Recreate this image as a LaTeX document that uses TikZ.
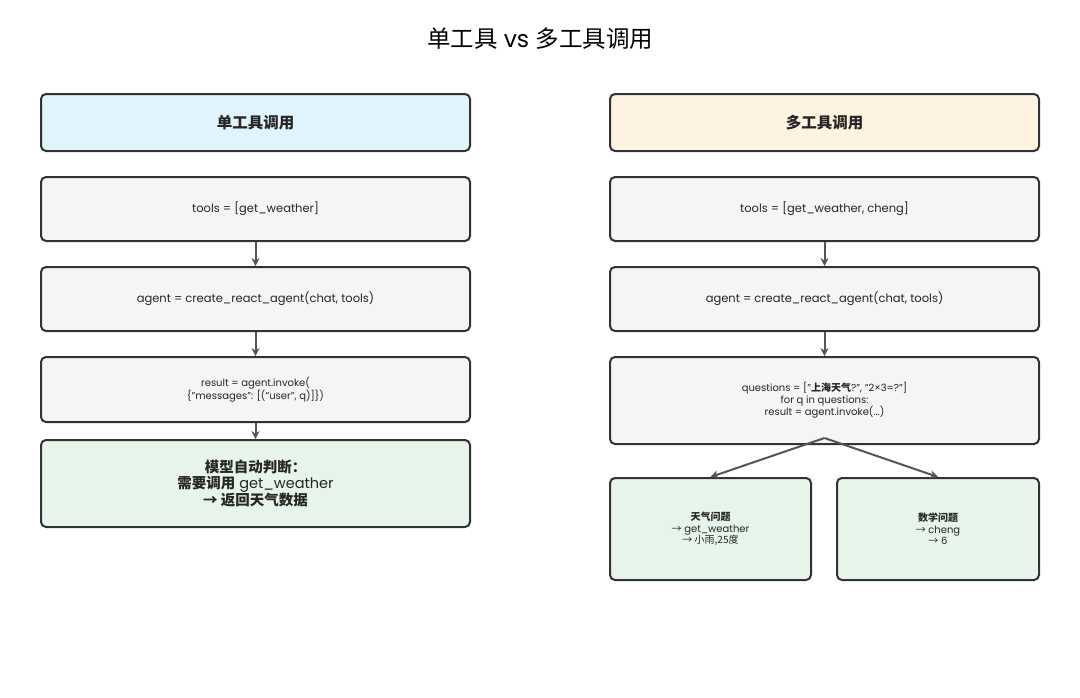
\documentclass[tikz,border=0pt]{standalone}
\usepackage{fontspec}
\setmainfont{Poppins}
\newfontfamily\cjk{Noto Sans CJK SC}
\usetikzlibrary{arrows.meta}

\definecolor{edgegray}{HTML}{333333}
\definecolor{arrowgray}{HTML}{555555}
\definecolor{codegray}{HTML}{F5F5F5}
\definecolor{headblue}{HTML}{E1F3FC}
\definecolor{headorange}{HTML}{FEF2E0}
\definecolor{resgreen}{HTML}{E6F4EA}

\tikzset{
  box/.style={draw=edgegray, line width=2pt, rounded corners=5pt, fill=codegray,
    align=center, inner sep=0pt, text=black!85},
  wide/.style={minimum width=429pt},
  flow/.style={draw=arrowgray, line width=2pt, -{Stealth[length=8pt,width=8pt]}},
}
\newcommand\zh[1]{{\cjk #1}}

\begin{document}
\begin{tikzpicture}[x=1pt, y=-1pt]
    \useasboundingbox[fill=white] (0,0) rectangle (1080,697);

    \node[font=\fontsize{23.5}{27}\selectfont] (title) at (540,39) {\zh{单工具} vs \zh{多工具调用}};

    % single tool
    \node[box, wide, fill=headblue, minimum height=57pt, font=\fontsize{15.5}{18}\selectfont\cjk\bfseries]
        (lhead) at (255.5,122.5) {单工具调用};
    \node[box, wide, minimum height=64pt, font=\fontsize{11.5}{14}\selectfont] (ltools) at (255.5,209)
        {tools = [get\_weather]};
    \node[box, wide, minimum height=64pt, font=\fontsize{11.5}{14}\selectfont] (lagent) at (255.5,299)
        {agent = create\_react\_agent(chat, tools)};
    \node[box, wide, minimum height=65pt, font=\fontsize{10}{13}\selectfont] (linvoke) at (255.5,389.5)
        {result = agent.invoke(\\ \{"messages": [("user", q)]\})};
    \node[box, wide, fill=resgreen, minimum height=87pt, font=\fontsize{14.5}{15.5}\selectfont] (ljudge) at (255.5,483.5)
        {\zh{\bfseries 模型自动判断：}\\ \zh{\bfseries 需要调用} get\_weather\\ \zh{\bfseries → 返回天气数据}};

    \draw[flow] (ltools) -- (lagent);
    \draw[flow] (lagent) -- (linvoke);
    \draw[flow] (linvoke) -- (ljudge);

    % multiple tools
    \node[box, wide, fill=headorange, minimum height=57pt, font=\fontsize{15.5}{18}\selectfont\cjk\bfseries]
        (rhead) at (824.5,122.5) {多工具调用};
    \node[box, wide, minimum height=64pt, font=\fontsize{11.5}{14}\selectfont] (rtools) at (824.5,209)
        {tools = [get\_weather, cheng]};
    \node[box, wide, minimum height=64pt, font=\fontsize{11.5}{14}\selectfont] (ragent) at (824.5,299)
        {agent = create\_react\_agent(chat, tools)};
    \node[box, wide, minimum height=87pt, font=\fontsize{10}{12}\selectfont] (rloop) at (824.5,400.5)
        {questions = ["\zh{\bfseries 上海天气}?", "2×3=?"]\\ for q in questions:\\ result = agent.invoke(...)};
    \node[box, fill=resgreen, minimum width=201pt, minimum height=102pt, font=\fontsize{10}{11.5}\selectfont]
        (rweather) at (710.5,529) {\zh{\bfseries 天气问题}\\ \zh{→} get\_weather\\ \zh{→ 小雨,25度}};
    \node[box, fill=resgreen, minimum width=202pt, minimum height=102pt, font=\fontsize{10}{11.5}\selectfont]
        (rmath) at (938,529) {\zh{\bfseries 数学问题}\\ \zh{→} cheng\\ \zh{→} 6};

    \draw[flow] (rtools) -- (ragent);
    \draw[flow] (ragent) -- (rloop);
    \coordinate (fork) at (824.5,438);
    \draw[flow] (fork) -- (rweather.north);
    \draw[flow] (fork) -- (rmath.north);
\end{tikzpicture}
\end{document}
